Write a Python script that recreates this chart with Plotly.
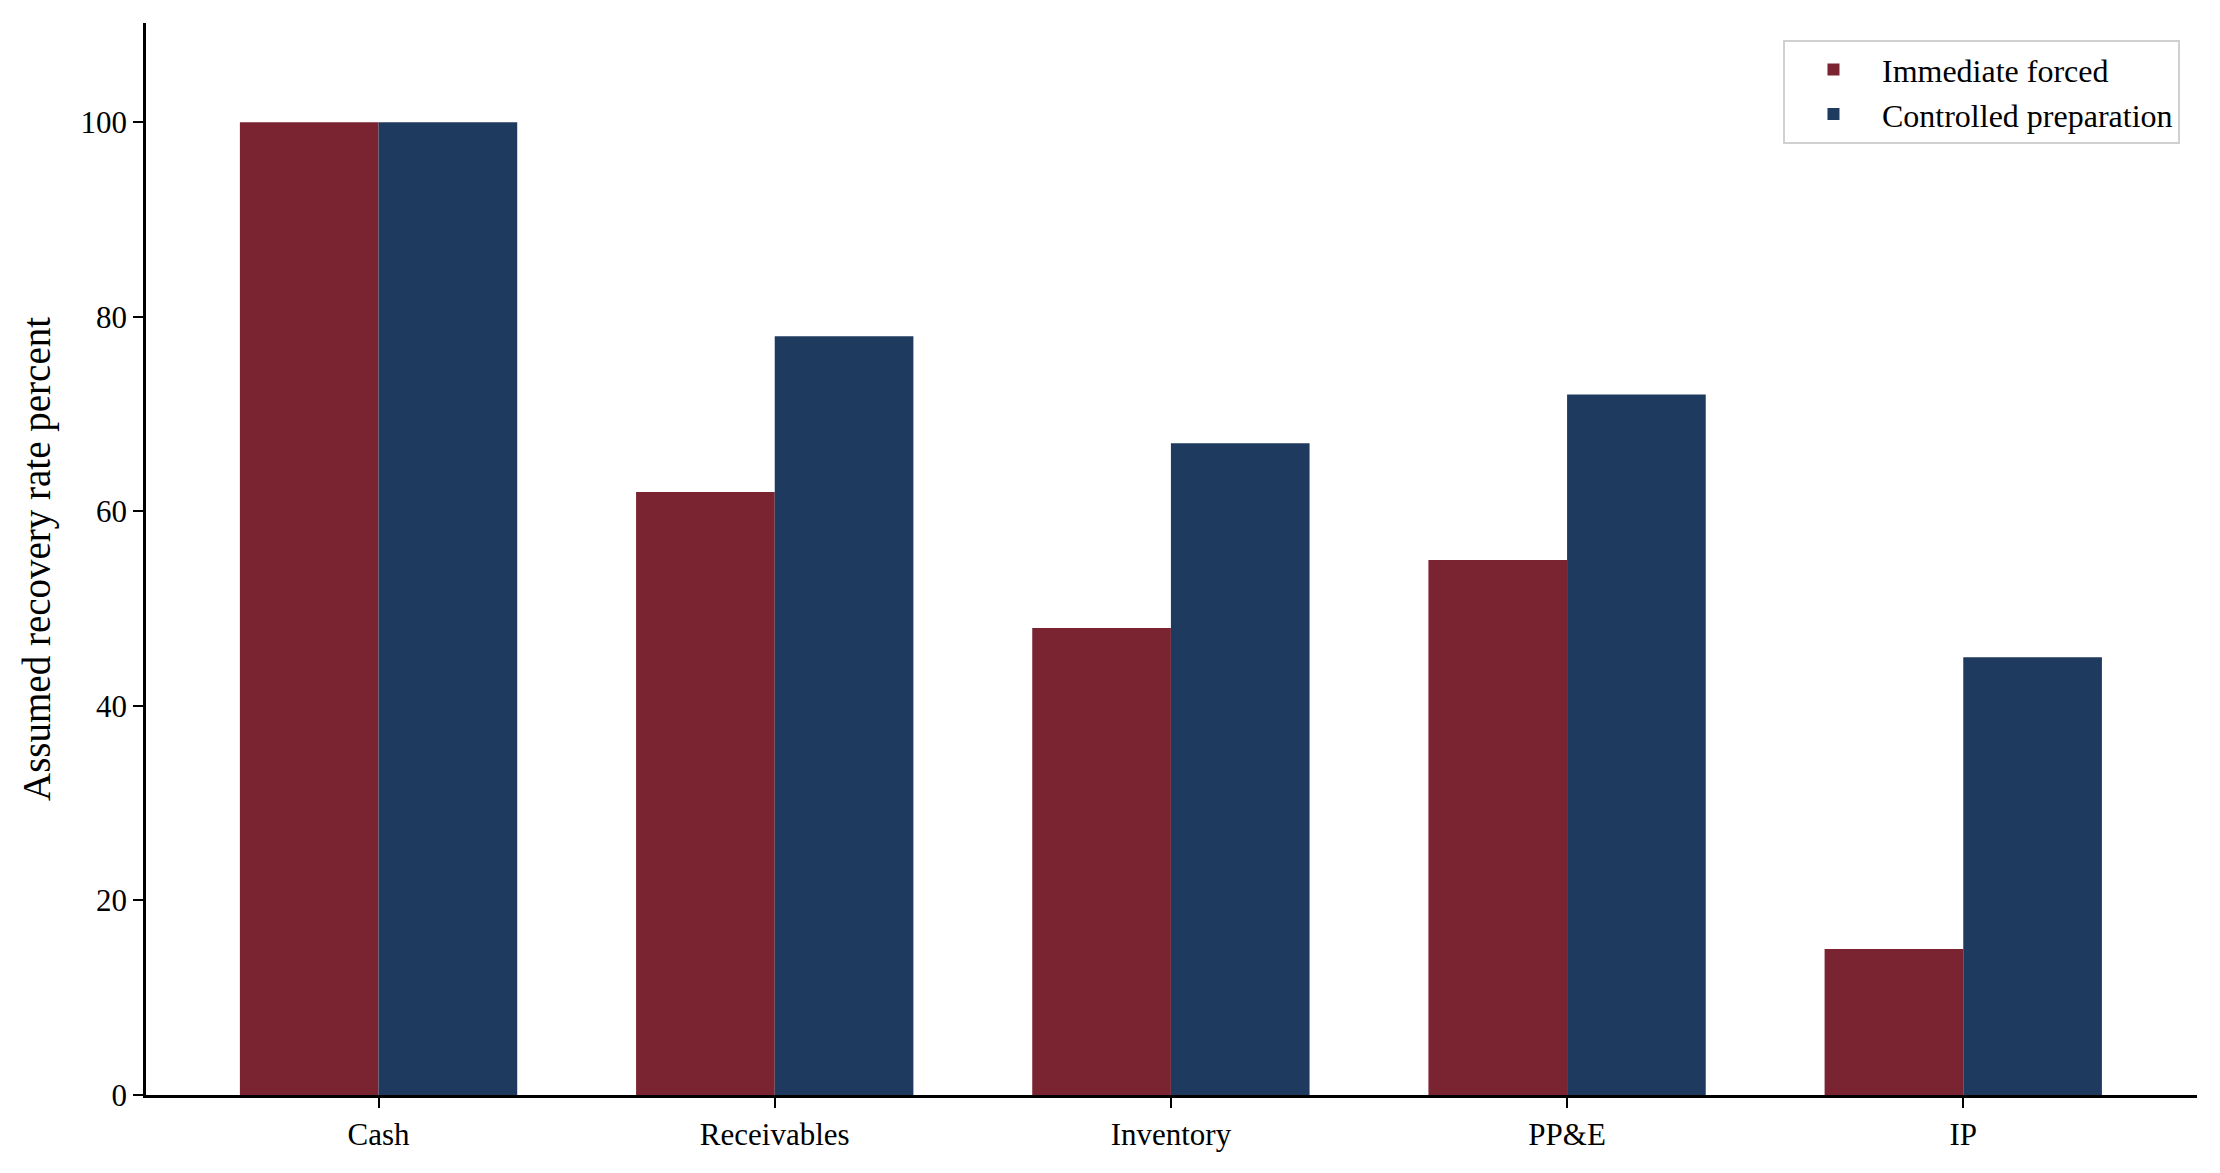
import plotly.graph_objects as go

# recovery assumptions by asset class
categories = ['Cash', 'Receivables', 'Inventory', 'PP&E', 'IP']
immediate_forced = [100, 62, 48, 55, 15]
controlled_prep = [100, 78, 67, 72, 45]
y_ticks = [0, 20, 40, 60, 80, 100]

FONT = 'Liberation Serif'

data = [
    go.Bar(x=categories, y=immediate_forced, name='Immediate forced',
           marker={'color': '#7B2431', 'line': {'width': 0}}),
    go.Bar(x=categories, y=controlled_prep, name='Controlled preparation',
           marker={'color': '#1F3A5F', 'line': {'width': 0}}),
]

# page body has an 8px margin, so the figure is sized to fit inside the window
layout = go.Layout(
    width=2204,
    height=1157,
    paper_bgcolor='white',
    plot_bgcolor='white',
    font={'family': FONT, 'size': 31, 'color': 'black'},
    barmode='group',
    bargap=0.3,
    bargroupgap=0,
    margin={'l': 138, 'r': 15, 't': 15, 'b': 70},
    xaxis={
        'range': [-0.587, 4.59],
        'showline': True, 'linecolor': 'black', 'linewidth': 2.5,
        'ticks': 'outside', 'ticklen': 10, 'tickwidth': 2.2, 'tickcolor': 'black',
        'showgrid': False, 'zeroline': False,
        'tickfont': {'family': FONT, 'size': 31},
    },
    yaxis={
        'title': {'text': 'Assumed recovery rate percent',
                  'font': {'family': FONT, 'size': 39}, 'standoff': 18},
        'range': [0, 110.2],
        'tickvals': y_ticks,
        'showline': True, 'linecolor': 'black', 'linewidth': 2.5,
        'ticks': 'outside', 'ticklen': 10, 'tickwidth': 2.2, 'tickcolor': 'black',
        'showgrid': False, 'zeroline': False,
        'tickfont': {'family': FONT, 'size': 31},
    },
    legend={
        'x': 0.9917, 'y': 0.984, 'xanchor': 'right', 'yanchor': 'top',
        'bordercolor': '#d0d0d0', 'borderwidth': 2, 'bgcolor': 'white',
        'font': {'family': FONT, 'size': 32},
        'itemwidth': 87,
    },
)

fig = go.Figure(data=data, layout=layout)
fig.write_html('out.html')
